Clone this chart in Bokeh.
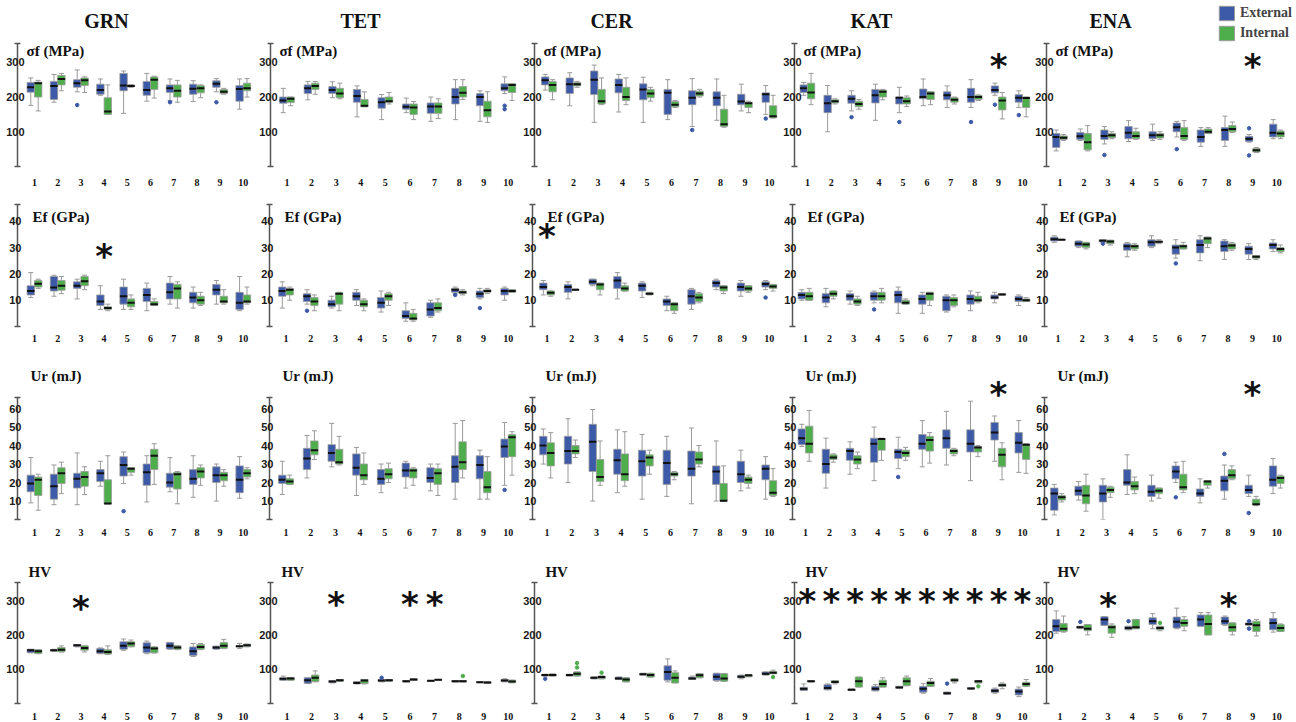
import numpy as np
from bokeh.plotting import figure
from bokeh.layouts import column, row
from bokeh.models import Range1d, FixedTicker, Label, Legend, LegendItem, ColumnDataSource
from bokeh.core.properties import value
from bokeh.embed import file_html
from bokeh.resources import INLINE

GROUPS = ["GRN", "TET", "CER", "KAT", "ENA"]
CATEGORIES = list(range(1, 11))
METRICS = ["SF", "EF", "UR", "HV"]
METRIC_TITLES = ["σf (MPa)", "Ef (GPa)", "Ur (mJ)", "HV"]
Y_TICKS = [[100, 200, 300], [10, 20, 30, 40], [10, 20, 30, 40, 50, 60], [100, 200, 300]]
AXIS_TOP = [355, 46.4, 66, 354]
SERIES = ["External", "Internal"]

# box stats per category: (lower whisker, q1, median, q3, upper whisker)
SF_GRN_EXT = [(176,214,228,242,255),(185,193,232,245,265),(215,228,240,250,278),(205,208,220,237,252),(153,218,233,268,275),
              (188,205,220,245,268),(190,213,225,235,252),(187,208,224,237,247),(215,228,238,247,253),(165,188,223,233,252)]
SF_GRN_INT = [(160,200,240,243,248),(218,235,252,262,268),(213,233,248,255,258),(150,150,158,198,235),(228,230,232,235,236),
              (197,222,250,258,260),(185,200,218,235,248),(198,212,225,233,235),(208,210,215,222,225),(200,218,225,240,253)]
SF_TET_EXT = [(155,182,190,200,225),(192,210,225,235,245),(198,210,220,230,244),(143,185,203,222,232),(135,168,185,198,207),
              (155,165,172,180,197),(130,153,173,183,200),(135,180,200,225,250),(130,175,200,210,218),(210,218,225,238,258)]
SF_TET_INT = [(175,184,195,200,200),(208,222,232,240,245),(195,198,210,225,240),(172,172,175,193,215),(180,185,188,200,213),
              (135,150,170,180,187),(138,153,173,183,195),(193,200,212,230,250),(127,143,162,188,215),(190,213,235,238,238)]
SF_CER_EXT = [(220,235,248,258,265),(175,210,237,255,270),(127,207,250,275,292),(157,212,235,252,265),(127,192,222,238,257),
              (135,150,212,222,250),(115,178,198,218,253),(133,175,198,215,252),(160,178,187,208,237),(150,185,208,212,233)]
SF_CER_INT = [(192,215,235,245,250),(228,232,237,242,245),(178,180,188,222,255),(178,190,200,228,255),(188,198,210,222,228),
              (170,172,178,187,190),(200,203,210,217,222),(113,115,122,165,205),(155,170,182,185,188),(140,140,145,175,205)]
SF_KAT_EXT = [(205,213,225,235,242),(100,155,182,205,233),(160,182,195,205,218),(133,183,205,222,237),(155,180,198,200,228),
              (175,195,200,223,252),(170,192,205,215,232),(170,185,200,225,250),(205,212,220,232,240),(170,185,198,207,218)]
SF_KAT_INT = [(178,195,213,240,268),(180,183,188,192,195),(165,172,180,188,193),(192,200,215,220,222),(173,180,188,198,203),
              (178,193,210,215,215),(180,185,192,198,200),(190,193,200,205,206),(137,163,190,200,213),(143,170,197,200,200)]
SF_ENA_EXT = [(45,55,85,95,105),(75,78,87,98,108),(65,78,88,105,115),(72,80,97,115,132),(75,80,90,100,122),
              (85,100,113,125,130),(58,70,85,105,112),(58,75,105,112,145),(70,72,80,87,92),(80,85,97,122,135)]
SF_ENA_INT = [(75,78,83,88,92),(45,48,70,95,118),(80,83,90,95,100),(78,80,88,100,110),(78,82,90,95,100),
              (75,78,88,112,132),(95,95,100,108,112),(98,100,108,118,128),(40,42,47,52,55),(80,85,95,102,105)]

EF_GRN_EXT = [(11,12,13.5,15.5,20.5),(11.5,13.5,14.8,19,19.5),(10.5,14.5,15.5,17,18),(6.5,8,9.5,12,15.5),(6.5,8.5,11.5,15,18),
              (6,9.5,12,14.5,16.5),(8.5,10.5,13,16.5,19),(7,9,11,13,15),(8.5,12,14,16,17.5),(6,6.5,9,13,19)]
EF_GRN_INT = [(14.5,15,16.3,17.5,18),(12.5,13.8,15.5,17.5,19),(14,15.5,17.2,19,19.5),(6,6.5,7,7.5,8.5),(6.5,7.5,9,10.5,12),
              (8,8,8.5,9.5,10.5),(7,10.5,14.5,16,17),(8,8.5,10,11.5,13),(8.5,9,9.5,11.5,14),(8.5,9,9.5,12,15)]
EF_TET_EXT = [(7,11.5,13.5,15,17),(8.5,9.5,11.5,12.5,14),(7,7.5,8.5,10,11.5),(8,10,11.5,13,14),(5.5,7,9,11,13.5),
              (2,3,4,6,9),(3.5,4,6.5,9,10),(12.5,13,14,14.5,15),(10.5,11,12.5,13.5,14.5),(10,12,13.5,14.5,15)]
EF_TET_INT = [(10,12,14,14.5,15),(6,8,9.5,11,12),(6,8.5,12.5,12.8,13),(6,7.5,8.5,10,10.5),(8,10,11.5,12.5,13),
              (2,2.5,3,5,6.5),(5.5,6,7,9,10.5),(12,12.5,13,13.5,14),(12.5,13,13.5,14,14.5),(13,13,13.5,14,14)]
EF_CER_EXT = [(12,14,15,16.5,17.5),(10.5,13,15,16,17),(15.5,16,17,18,18),(10.5,14.5,17.5,19,20.5),(11,13.5,15.5,16.5,17),
              (6,8,9.5,10.5,11.5),(6.5,8.5,11.5,14,14.5),(14,15,16.5,17.5,18),(11.5,13.5,15,16.5,17.5),(14,15,16.2,17,17.5)]
EF_CER_INT = [(11.5,12,12.8,13.5,13.5),(13.8,13.9,14,14.1,14.2),(12,14,16,16.5,16.5),(13.5,13.5,14.5,15.5,16.5),(12,12.2,12.5,12.8,13),
              (5,6,8.5,9,9),(9,9.5,11,12.5,13),(12.5,13.5,14.8,15.5,15.5),(13,13.5,14.5,15.5,15.5),(13.5,14.5,15.2,16,16)]
EF_KAT_EXT = [(10,10.5,12,13,14),(7.5,9,11,12.5,14.5),(8.5,10,11.5,12.5,13.5),(9,10,11.5,13,13.5),(5,9,12,13.5,15),
              (5,8.5,10.5,12,13),(5.5,6,10,11.5,12),(6,8.5,10.5,12,13.5),(9,10.5,11,12,13),(8,9.5,10.5,11.5,12)]
EF_KAT_INT = [(10,10,11.5,13,14.5),(10.5,11.5,12.5,13.5,13.5),(8,8.5,9.5,10.5,11.5),(9,10,11.5,13,14.5),(8.5,8.5,9,10,10.5),
              (8,10,12.5,13,13),(7.5,8,10,11,12),(9,9.5,10,11.5,13),(12,12,12.2,12.5,12.5),(9.5,9.5,10,10.5,11)]
EF_ENA_EXT = [(32,32.5,33.2,34,34.5),(30,30.5,31.5,32.5,32.5),(32,32.2,32.6,33,33),(26.5,29,30.5,31.5,32),(30,30.5,32,33,34.5),
              (26,27.5,30,31,33),(25,28,31,33,34.5),(25.5,28.5,30.5,32.5,33),(25.5,27.5,29.5,30.5,31.5),(28.5,29.5,31,31.8,33)]
EF_ENA_INT = [(33,33,33,33.1,33.2),(29.5,30,31.2,32,32),(31,31.5,32.3,32.8,32.8),(29,29.5,30.5,31,31.5),(31.5,31.8,32.2,32.5,33),
              (29.5,29.5,30.5,31,32),(30,31.5,33.5,34,34),(29,29.5,30.8,31.5,32),(25.5,26,26.5,27,27),(28,28.5,29.5,30,31)]

UR_GRN_EXT = [(9,15,19.5,24,33.5),(8,11,18,24.5,29.5),(8,17,22,25,36),(18,20.5,25,27,31.5),(19.5,23.5,29.5,34,36.5),
              (9.5,18.5,25.5,30,34.5),(15,17.5,20,25,33.5),(12,19,22,27,34.5),(10,20,24,28.5,30),(11.5,14.5,21.5,29,34)]
UR_GRN_INT = [(5,13,21.5,23,24.5),(14,19.5,25,28,31),(13.5,18,23,26,28.5),(8.5,8.5,8.7,21.5,34.5),(24,25.5,27.5,28,28),
              (19,27,34.5,38,41),(8.5,16.5,24.5,25.5,26),(18.5,22.5,26,28,29.5),(18,21,24,25.5,27),(22,23,25,27,28)]
UR_TET_EXT = [(13.5,19.5,21.5,24,31.5),(22.5,27,33,38.5,45.5),(28.5,31.5,36,40.5,52),(13,24,28,35.5,39),(14.5,19,22,27,30),
              (17,23,26.5,30.5,31.5),(15.5,20,22.5,28,30),(11,20,28.5,34.5,52),(11,22,29.5,34.5,37.5),(18.5,33.5,39.5,43.5,52.5)]
UR_TET_INT = [(19,19,20.5,22,24),(32.5,35,37.5,42.5,48),(29.5,30,31,38,45),(19,21.5,24,30,36),(20,22,24.5,27.5,30.5),
              (18.5,22.5,26.5,27.5,28),(13,19,25,27.5,30),(22.5,27,31,42,53.5),(11,14.5,17.5,26,34),(24,34,44.5,46,47.5)]
UR_CER_EXT = [(30,35,40,45,49),(20,30,37,45,54.5),(10,26,42,51.5,59.5),(14.5,24.5,32,38,48.5),(11,23.5,31.5,37.5,46),
              (12.5,19,30.5,37.5,45),(8.5,23.5,27.5,37,49.5),(10,19,26,29,42.5),(15.5,20,24.5,31.5,37.5),(11,21.5,27.5,29.5,34)]
UR_CER_INT = [(22.5,29,36,41.5,47),(33.5,35.5,37,40,43),(18.5,20.5,23,32.5,42.5),(18,21,24.5,35.5,47.5),(24.5,29,33.5,35,37.5),
              (21.5,23.5,24.5,25.5,26),(28.5,30,32.5,36.5,40),(10,10,10.2,19.5,29),(17,19.5,21.5,23,24),(12.5,13,14.5,21,27.5)]
UR_KAT_EXT = [(39.5,40.5,44,49,51.5),(17,25,30,38,44),(24.5,32,37,38.5,42),(21,31,41,44,50),(27.5,33,36.5,38,44.5),
              (28.5,38,41,46,53.5),(29.5,38.5,44,48.5,58.5),(21,36.5,41,48.5,64),(31.5,43,47,52.5,56),(25.5,36,41.5,47,53.5)]
UR_KAT_INT = [(31.5,36,41,50.5,59),(31,32.5,33.5,35,35.5),(27.5,30,32.5,34.5,36.5),(32,37.5,43.5,43.8,44),(32,34,36,37.5,39),
              (30.5,37,43,45,47),(34.5,35.5,37,38,38.5),(34,36.5,39,39.5,40),(21.5,28.5,35,38.5,41.5),(25,32.5,40.5,40.8,41)]
UR_ENA_EXT = [(2.5,5,14,17,19),(10.5,13,15.5,18,20.5),(0,9.5,14,18.5,22),(13.5,18.5,20,27,35),(10,12.5,15,18.5,24),
              (20,22,26,29,31),(9,12.5,14,16.5,22),(11,15.5,21,23.5,29.5),(12.5,14,16,18.5,24),(14,18,21.5,29,33)]
UR_ENA_INT = [(9.5,10.5,12,13,14),(4.5,8.5,13,18.5,24.5),(12,14.5,16,17.5,18),(14,16,18,20.5,23),(11.5,14,15.5,17,17),
              (14.5,16,17.5,24.5,31.5),(17,18.5,20.5,21,21),(21.5,22,24,27,29),(7.5,8,8.2,11,12.5),(17,19.5,22.5,23.5,24)]

HV_GRN_EXT = [(148,148,155,158,158),(152,153,155,157,158),(165,166,170,172,172),(145,146,152,160,162),(155,158,168,180,188),
              (145,148,163,177,182),(158,159,168,178,178),(137,140,152,165,175),(158,159,163,167,167),(160,165,167,168,175)]
HV_GRN_INT = [(145,146,152,157,157),(150,151,157,163,168),(150,155,162,168,168),(143,144,150,157,168),(165,166,175,180,185),
              (147,148,160,165,165),(157,158,163,168,168),(157,158,165,172,175),(160,161,168,178,187),(165,166,170,173,173)]
HV_TET_EXT = [(68,68,72,75,80),(58,59,68,75,75),(60,61,64,67,67),(57,58,60,64,64),(63,64,67,70,70),
              (63,63,65,67,67),(64,64,66,67,67),(63,63,65,67,67),(61,61,62,63,63),(63,64,67,70,72)]
HV_TET_INT = [(68,68,73,75,76),(63,64,75,83,95),(64,65,68,70,70),(57,58,67,70,70),(65,65,68,70,70),
              (67,67,70,72,72),(68,68,69,70,70),(63,63,65,67,67),(58,59,61,63,63),(60,61,64,68,68)]
HV_CER_EXT = [(80,80,83,85,85),(80,80,83,85,85),(72,72,75,77,77),(70,70,73,77,77),(83,83,85,88,88),
              (63,68,92,110,130),(70,70,73,77,80),(65,67,78,88,88),(72,75,78,82,83),(83,83,87,92,92)]
HV_CER_INT = [(80,80,83,86,86),(80,80,87,92,92),(72,72,77,80,80),(63,63,70,75,75),(77,77,83,88,88),
              (60,60,75,90,95),(75,75,82,87,87),(65,65,73,87,87),(78,78,82,83,83),(87,87,90,93,97)]
HV_KAT_EXT = [(38,38,43,47,57),(40,40,45,55,57),(38,38,40,42,42),(37,37,43,50,55),(45,45,47,50,50),
              (30,33,43,50,58),(27,27,30,33,33),(42,42,44,46,46),(30,32,37,42,45),(20,25,35,42,48)]
HV_KAT_INT = [(63,63,65,67,67),(57,60,63,67,67),(48,48,65,77,77),(48,48,57,68,75),(52,52,65,75,80),
              (50,50,60,65,73),(60,65,68,72,72),(60,60,65,67,67),(43,50,53,57,60),(50,50,57,62,70)]
HV_ENA_EXT = [(205,210,225,245,270),(218,220,222,225,225),(228,228,245,253,253),(215,215,220,225,225),(218,230,240,250,262),
              (218,220,238,252,278),(225,225,245,258,265),(228,230,240,252,255),(220,228,232,235,240),(208,215,235,248,265)]
HV_ENA_INT = [(208,210,218,233,255),(200,212,218,230,230),(193,205,222,228,232),(218,218,222,245,245),(212,215,220,225,225),
              (212,225,235,245,253),(200,200,232,258,265),(200,210,222,235,235),(197,210,228,240,245),(210,210,220,230,232)]

# outliers: (metric, group, series, category, value)
OUTLIERS = [
    ("SF","GRN","EXT",3,177),("SF","GRN","EXT",7,185),("SF","GRN","EXT",9,185),
    ("SF","TET","EXT",10,175),("SF","TET","EXT",10,165),
    ("SF","CER","EXT",7,105),("SF","CER","EXT",10,138),
    ("SF","KAT","EXT",3,142),("SF","KAT","EXT",5,128),("SF","KAT","EXT",8,128),("SF","KAT","EXT",9,178),("SF","KAT","EXT",10,148),
    ("SF","ENA","EXT",3,33),("SF","ENA","EXT",6,50),("SF","ENA","EXT",9,110),("SF","ENA","EXT",9,32),
    ("EF","TET","EXT",2,6),("EF","TET","EXT",8,12),("EF","TET","EXT",9,7),
    ("EF","CER","EXT",10,11),("EF","KAT","EXT",4,6.5),
    ("EF","ENA","EXT",3,31.5),("EF","ENA","EXT",6,24),
    ("UR","GRN","EXT",5,4.5),("UR","TET","EXT",10,16),("UR","KAT","EXT",5,23),
    ("UR","ENA","EXT",6,12),("UR","ENA","EXT",8,35.5),("UR","ENA","EXT",9,3.5),
    ("HV","TET","EXT",5,75),("HV","TET","INT",8,80),
    ("HV","CER","EXT",1,72),("HV","CER","INT",2,105),("HV","CER","INT",2,118),("HV","CER","INT",3,90),("HV","CER","INT",10,77),
    ("HV","KAT","EXT",7,58),("HV","KAT","INT",8,50),
    ("HV","ENA","EXT",2,238),("HV","ENA","EXT",4,240),("HV","ENA","EXT",9,240),("HV","ENA","EXT",9,218),("HV","ENA","INT",5,235),
]

# significance stars: (metric, group, category, height)
STARS = [
    ("SF","KAT",9,300),("SF","ENA",9,300),
    ("EF","GRN",4,28.5),("EF","CER",1,36),
    ("UR","KAT",9,70),("UR","ENA",9,70),
    ("HV","GRN",3,290),("HV","TET",3,303),("HV","TET",6,303),("HV","TET",7,303),
] + [("HV","KAT",c,310) for c in CATEGORIES] + [("HV","ENA",3,300),("HV","ENA",8,300)]

# ---------------- layout / style ----------------
BLUE = "#3c5aa8"
GREEN = "#4fae4c"
EDGE = "#9a9a9a"
AXIS_COL = "#555555"
COL_W = [256, 264, 260, 252, 264]
AXIS_OFF = [17, 13, 12, 12, 12]
CAT1_OFF = [17, 16.5, 14.5, 13, 13.5]
SPACING = [23.2, 24.7, 24.7, 24.1, 24.3]
ROW_H = [146, 157, 203, 174]
ROW_BOTTOM = [22, 19, 29, 17]
AXIS_PX = [123.3, 122, 122, 123]
XLAB_STANDOFF = [6, 2, 3, 3]
TITLE_DX = [9, 15, 13, 11]
TITLE_DY = [0, -4, 30, 18]
TICK_STANDOFF = [-10, -7, -7, -10]
BOX_PX = 7.4
CAP_PX = 2.5
HEADER_H = 42
HEADER_X = [106, 360, 611, 871, 1110]

serif = "Liberation Serif"
data = {}
for m in METRICS:
    for g in GROUPS:
        for s in ("EXT", "INT"):
            data[(m, g, s)] = globals()[f"{m}_{g}_{s}"]


def make_panel(mi, gi):
    m, g = METRICS[mi], GROUPS[gi]
    W, L, sp, c1 = COL_W[gi], AXIS_OFF[gi], SPACING[gi], CAT1_OFF[gi]
    H, B, top = ROW_H[mi], ROW_BOTTOM[mi], AXIS_TOP[mi]
    ppu = AXIS_PX[mi] / top
    x0 = 1 - c1 / sp
    x1 = x0 + (W - L) / sp
    y1 = (H - B) / ppu
    p = figure(width=W, height=H, x_range=Range1d(x0, x1), y_range=Range1d(0, y1),
               output_backend="svg", toolbar_location=None,
               min_border_left=L, min_border_right=0, min_border_top=0, min_border_bottom=B)
    p.outline_line_color = None
    p.grid.visible = False
    p.background_fill_color = "white"

    ya = p.yaxis[0]
    ya.ticker = FixedTicker(ticks=Y_TICKS[mi], minor_ticks=[0, top])
    ya.bounds = (0, top)
    ya.axis_line_color = AXIS_COL
    ya.axis_line_width = 1.5
    ya.major_tick_line_color = None
    ya.major_tick_in = 0
    ya.major_tick_out = 0
    ya.minor_tick_line_color = AXIS_COL
    ya.minor_tick_line_width = 1.5
    ya.minor_tick_in = 3
    ya.minor_tick_out = 3
    ya.major_label_standoff = TICK_STANDOFF[mi]
    ya.major_label_text_font = "Liberation Sans"
    ya.major_label_text_font_style = "bold"
    ya.major_label_text_font_size = "11px"
    ya.major_label_text_color = "#1a1a1a"

    xa = p.xaxis[0]
    xa.ticker = FixedTicker(ticks=CATEGORIES)
    xa.axis_line_color = None
    xa.major_tick_line_color = None
    xa.minor_tick_line_color = None
    xa.major_label_standoff = XLAB_STANDOFF[mi]
    xa.major_label_text_font = serif
    xa.major_label_text_font_style = "bold"
    xa.major_label_text_font_size = "10px"
    xa.major_label_text_color = "#111111"

    hw = BOX_PX / 2 / sp
    cw = CAP_PX / sp
    for s, col, off in (("EXT", BLUE, -hw), ("INT", GREEN, hw)):
        arr = np.array(data[(m, g, s)], dtype=float)
        xs = np.array(CATEGORIES, dtype=float) + off
        src = ColumnDataSource(dict(x=xs, lo=arr[:, 0], q1=arr[:, 1], med=arr[:, 2], q3=arr[:, 3], hi=arr[:, 4],
                                    xl=xs - hw, xr=xs + hw, cl=xs - cw, cr=xs + cw))
        p.segment(x0="x", y0="q3", x1="x", y1="hi", source=src, line_color=EDGE, line_width=1)
        p.segment(x0="x", y0="lo", x1="x", y1="q1", source=src, line_color=EDGE, line_width=1)
        p.segment(x0="cl", y0="hi", x1="cr", y1="hi", source=src, line_color=EDGE, line_width=1)
        p.segment(x0="cl", y0="lo", x1="cr", y1="lo", source=src, line_color=EDGE, line_width=1)
        p.vbar(x="x", width=2 * hw, top="q3", bottom="q1", source=src,
               fill_color=col, line_color=EDGE, line_width=0.8)
        p.segment(x0="xl", y0="med", x1="xr", y1="med", source=src, line_color="#111111", line_width=2)
        ox = [c + off for (mm, gg, ss, c, v) in OUTLIERS if mm == m and gg == g and ss == s]
        oy = [v for (mm, gg, ss, c, v) in OUTLIERS if mm == m and gg == g and ss == s]
        if ox:
            p.scatter(x=ox, y=oy, size=3.5, color=col, line_color=col)

    sx = [c for (mm, gg, c, h) in STARS if mm == m and gg == g]
    sy = [h for (mm, gg, c, h) in STARS if mm == m and gg == g]
    if sx:
        p.text(x=sx, y=sy, text=["*"] * len(sx), text_font=value("DejaVu Sans"), text_font_style="bold",
               text_font_size="34px", text_align="center", text_baseline="middle", text_color="#111111",
               y_offset=4)

    title_y = top + TITLE_DY[mi] / ppu
    title_x = x0 + TITLE_DX[mi] / sp
    p.add_layout(Label(x=title_x, y=title_y, text=METRIC_TITLES[mi], text_font=serif,
                       text_font_style="bold", text_font_size="15px", text_baseline="top",
                       text_align="left", text_color="#111111"))
    return p


# header with group titles and legend
TOTAL_W = sum(COL_W)
hdr = figure(width=TOTAL_W, height=HEADER_H, x_range=Range1d(0, TOTAL_W), y_range=Range1d(0, HEADER_H),
             output_backend="svg", toolbar_location=None, min_border=0)
hdr.axis.visible = False
hdr.grid.visible = False
hdr.outline_line_color = None
hdr.text(x=HEADER_X, y=[HEADER_H - 20] * len(GROUPS), text=GROUPS, text_font=value(serif), text_font_style="bold",
         text_font_size="20px", text_align="center", text_baseline="middle", text_color="#111111")
r_ext = hdr.rect(x=[-100], y=[-100], width=1, height=1, fill_color=BLUE, line_color=EDGE)
r_int = hdr.rect(x=[-100], y=[-100], width=1, height=1, fill_color=GREEN, line_color=EDGE)
leg = Legend(items=[LegendItem(label=SERIES[0], renderers=[r_ext]), LegendItem(label=SERIES[1], renderers=[r_int])],
             location="top_right", margin=4, padding=1, spacing=2, glyph_width=19, glyph_height=18,
             label_height=18, label_standoff=4, label_text_font=serif, label_text_font_style="bold",
             label_text_font_size="14px", border_line_color=None, background_fill_alpha=0)
hdr.add_layout(leg)

rows = [hdr]
for mi in range(len(METRICS)):
    rows.append(row(*[make_panel(mi, gi) for gi in range(len(GROUPS))], spacing=0))
layout = column(*rows, spacing=0)

open("out.html", "w").write(file_html(layout, INLINE))
